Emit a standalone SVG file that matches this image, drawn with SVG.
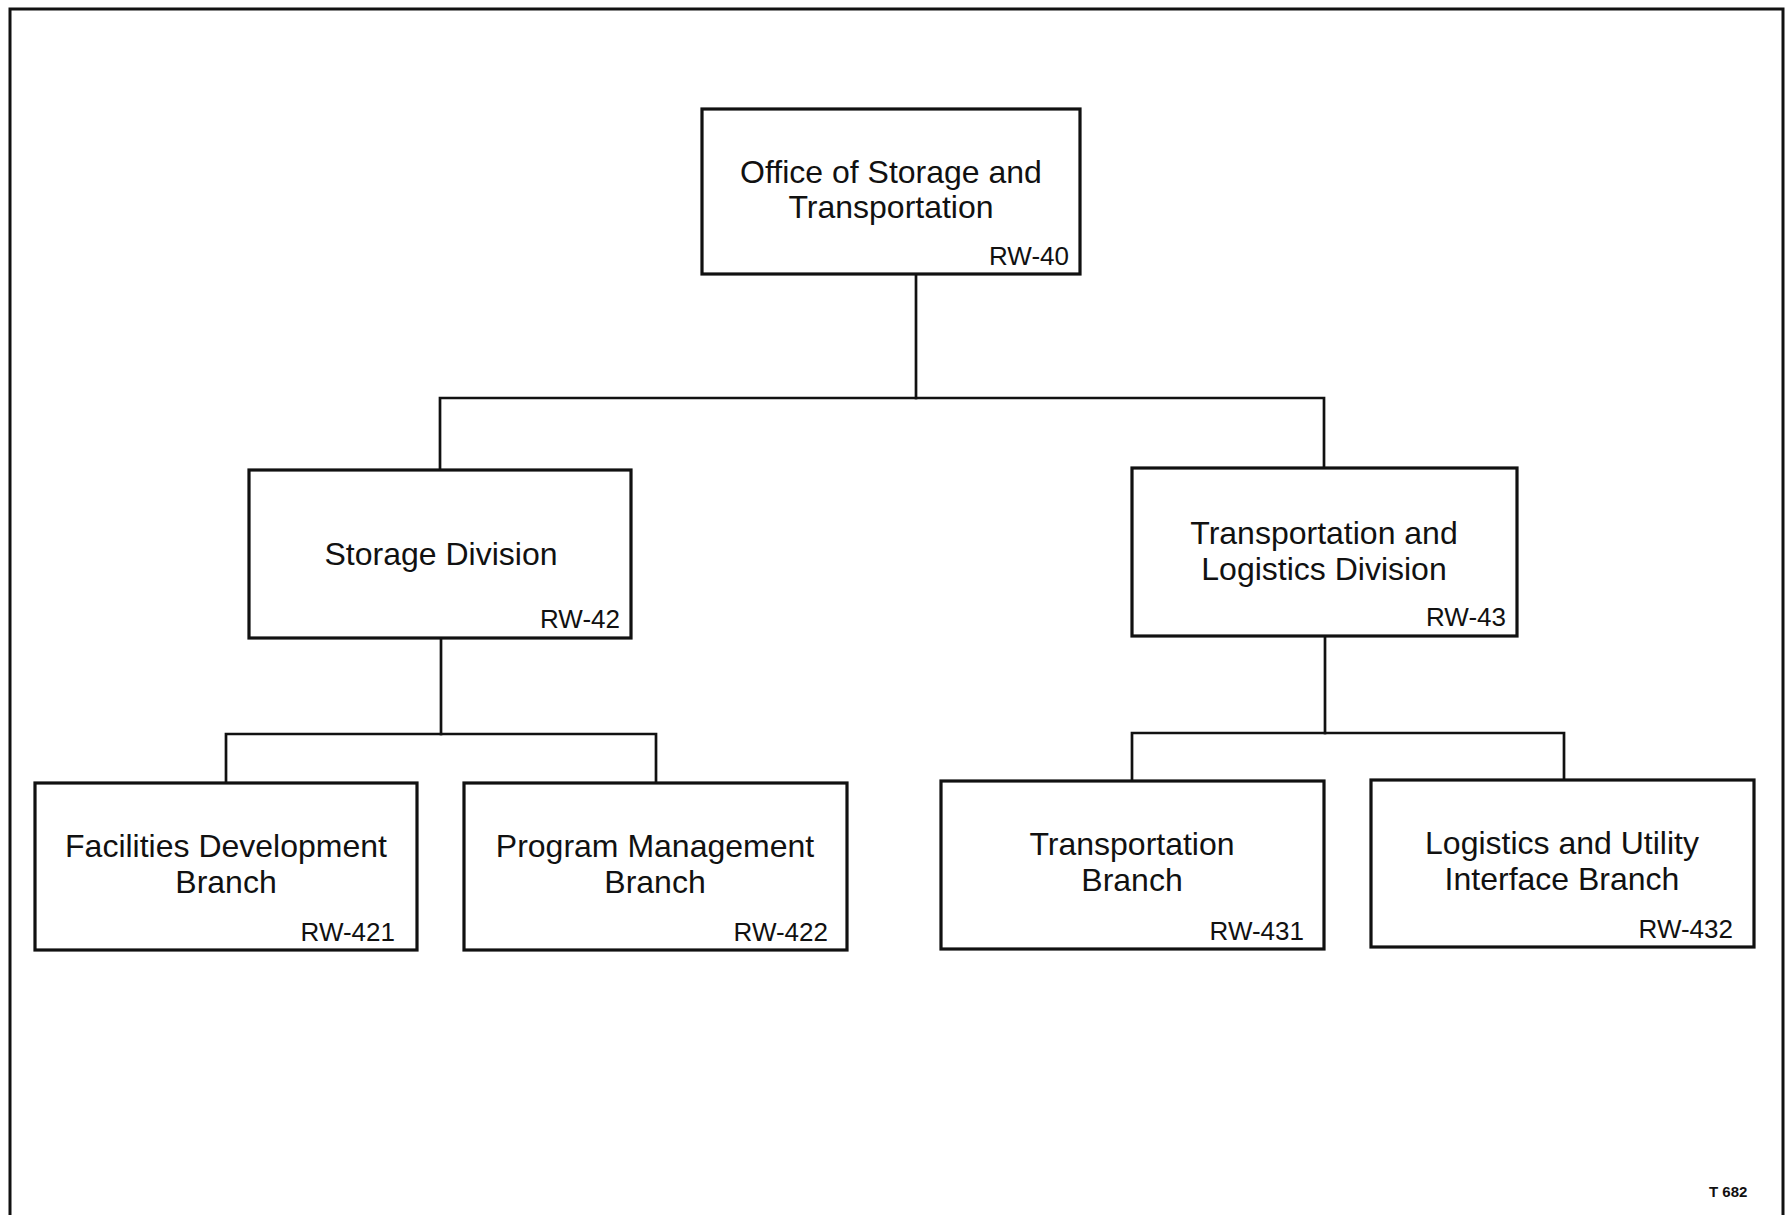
<svg xmlns="http://www.w3.org/2000/svg" width="1789" height="1215" viewBox="0 0 1789 1215">
  <style>
    .box { fill: #ffffff; stroke: #111111; stroke-width: 3.2; }
    .wire { fill: none; stroke: #111111; stroke-width: 2.7; stroke-linecap: square; }
    .title { font-family: "Liberation Sans", Arial, sans-serif; font-size: 32px; fill: #111111; text-anchor: middle; }
    .code { font-family: "Liberation Sans", Arial, sans-serif; font-size: 26px; fill: #111111; text-anchor: end; }
    .ref { font-family: "Liberation Sans", Arial, sans-serif; font-size: 15px; font-weight: bold; fill: #111111; }
  </style>
  <rect width="1789" height="1215" fill="#ffffff"/>

  <!-- page border (open at the bottom edge) -->
  <path d="M 10 1215 V 9 H 1783 V 1215" fill="none" stroke="#111111" stroke-width="3"/>

  <!-- connectors -->
  <g id="connectors">
    <path class="wire" d="M 916 274 V 398"/>
    <path class="wire" d="M 440 470 V 398 H 1324 V 468"/>
    <path class="wire" d="M 441 638 V 734"/>
    <path class="wire" d="M 226 783 V 734 H 656 V 783"/>
    <path class="wire" d="M 1325 636 V 733"/>
    <path class="wire" d="M 1132 781 V 733 H 1564 V 780"/>
  </g>

  <g id="rw-40">
    <rect class="box" x="702" y="109" width="378" height="165"/>
    <text class="title" x="891" y="183">Office of Storage and</text>
    <text class="title" x="891" y="218">Transportation</text>
    <text class="code" x="1069" y="265">RW-40</text>
  </g>

  <g id="rw-42">
    <rect class="box" x="249" y="470" width="382" height="168"/>
    <text class="title" x="441" y="565">Storage Division</text>
    <text class="code" x="620" y="628">RW-42</text>
  </g>

  <g id="rw-43">
    <rect class="box" x="1132" y="468" width="385" height="168"/>
    <text class="title" x="1324" y="544">Transportation and</text>
    <text class="title" x="1324" y="580">Logistics Division</text>
    <text class="code" x="1506" y="626">RW-43</text>
  </g>

  <g id="rw-421">
    <rect class="box" x="35" y="783" width="382" height="167"/>
    <text class="title" x="226" y="857">Facilities Development</text>
    <text class="title" x="226" y="893">Branch</text>
    <text class="code" x="395" y="941">RW-421</text>
  </g>

  <g id="rw-422">
    <rect class="box" x="464" y="783" width="383" height="167"/>
    <text class="title" x="655" y="857">Program Management</text>
    <text class="title" x="655" y="893">Branch</text>
    <text class="code" x="828" y="941">RW-422</text>
  </g>

  <g id="rw-431">
    <rect class="box" x="941" y="781" width="383" height="168"/>
    <text class="title" x="1132" y="855">Transportation</text>
    <text class="title" x="1132" y="891">Branch</text>
    <text class="code" x="1304" y="940">RW-431</text>
  </g>

  <g id="rw-432">
    <rect class="box" x="1371" y="780" width="383" height="167"/>
    <text class="title" x="1562" y="854">Logistics and Utility</text>
    <text class="title" x="1562" y="890">Interface Branch</text>
    <text class="code" x="1733" y="938">RW-432</text>
  </g>

  <text class="ref" x="1709" y="1197">T 682</text>
</svg>
